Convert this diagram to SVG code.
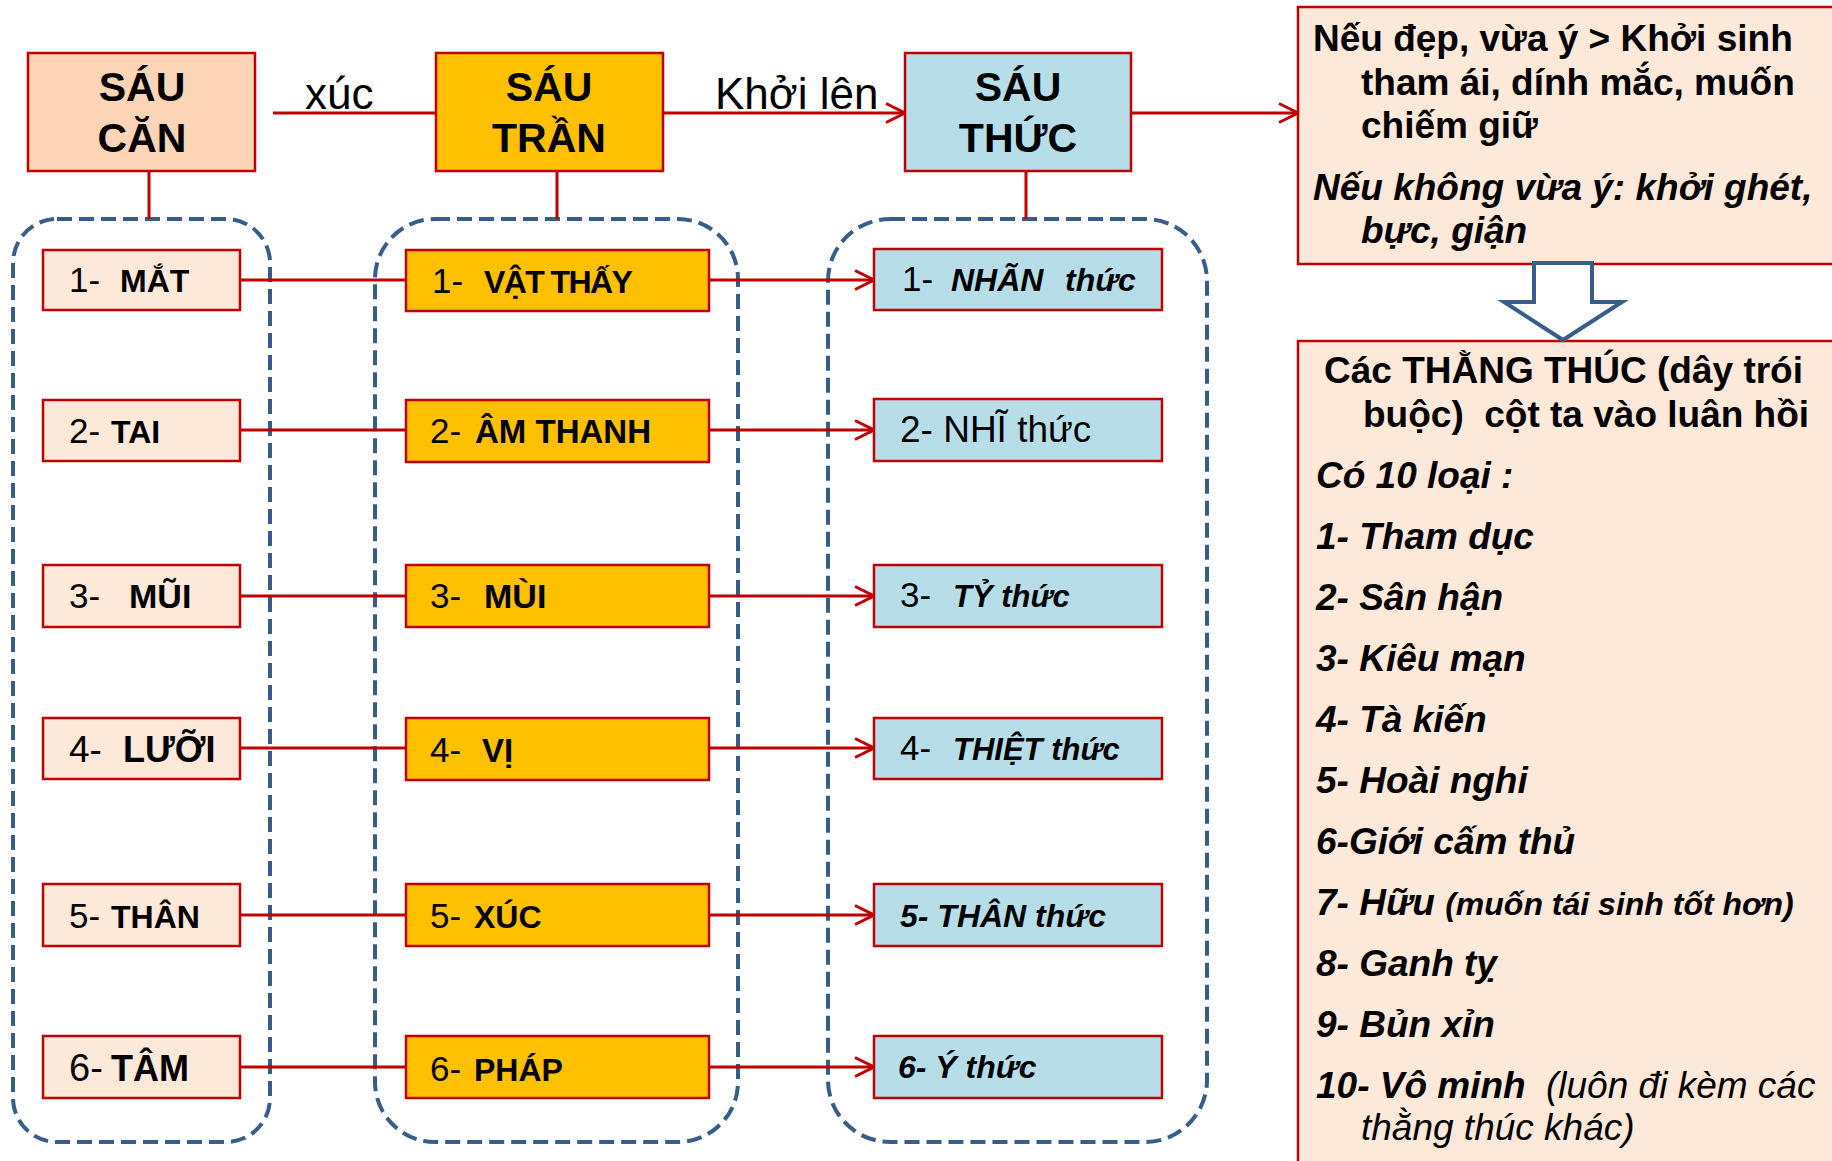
<svg xmlns="http://www.w3.org/2000/svg" width="1832" height="1161" viewBox="0 0 1832 1161">
<defs>
<marker id="arr" markerUnits="userSpaceOnUse" markerWidth="24" markerHeight="24" viewBox="0 0 24 24" refX="21" refY="12" orient="auto">
<path d="M2,2.5 L21,12 L2,21.5" fill="none" stroke="#C00000" stroke-width="3"/>
</marker>
<style>
text{font-family:"Liberation Sans",Arial,sans-serif;fill:#000}
.box{stroke:#C00000;stroke-width:2.5}
.can{fill:#FBD5B5}.tran{fill:#FFC000}.thuc{fill:#B7DEE8}.pink{fill:#FDE9D9}
.grp{fill:none;stroke:#385D8A;stroke-width:4;stroke-dasharray:15 7}
.ln{stroke:#C00000;stroke-width:3;fill:none}
.t{font-size:41px;font-weight:bold;text-anchor:middle}
.b{font-weight:bold}.bi{font-weight:bold;font-style:italic}.i{font-style:italic;font-weight:normal}
.d{font-size:35px}
</style>
</defs>
<rect width="1832" height="1161" fill="#fff"/>

<g id="groups">
<rect class="grp" x="13" y="219" width="257" height="923" rx="44"/>
<rect class="grp" x="375" y="219" width="363" height="923" rx="60"/>
<rect class="grp" x="828" y="219" width="379" height="923" rx="62"/>
</g>

<g id="connectors">
<path class="ln" d="M273,113 H436"/>
<path class="ln" d="M663,113 H905" marker-end="url(#arr)"/>
<path class="ln" d="M1131,113 H1298" marker-end="url(#arr)"/>
<path class="ln" d="M149,171 V219 M557,171 V219 M1026,171 V219"/>
<path class="ln" d="M240,280 H406 M240,430 H406 M240,596 H406 M240,748 H406 M240,915 H406 M240,1067 H406"/>
<path class="ln" d="M709,280 H874" marker-end="url(#arr)"/>
<path class="ln" d="M709,430 H874" marker-end="url(#arr)"/>
<path class="ln" d="M709,596 H874" marker-end="url(#arr)"/>
<path class="ln" d="M709,748 H874" marker-end="url(#arr)"/>
<path class="ln" d="M709,915 H874" marker-end="url(#arr)"/>
<path class="ln" d="M709,1067 H874" marker-end="url(#arr)"/>
<text x="305" y="109" font-size="44">xúc</text>
<text x="715" y="109" font-size="44">Khởi lên</text>
</g>

<g id="sau-can">
<rect class="box can" x="28" y="53" width="227" height="118"/>
<text class="t" x="142" y="101">SÁU</text>
<text class="t" x="142" y="152">CĂN</text>
</g>
<g id="sau-tran">
<rect class="box tran" x="436" y="53" width="227" height="118"/>
<text class="t" x="549" y="101">SÁU</text>
<text class="t" x="549" y="152">TRẦN</text>
</g>
<g id="sau-thuc">
<rect class="box thuc" x="905" y="53" width="226" height="118"/>
<text class="t" x="1018" y="101">SÁU</text>
<text class="t" x="1018" y="152">THỨC</text>
</g>

<g id="can-1"><rect class="box pink" x="43" y="250" width="197" height="60"/><text y="292" font-size="32"><tspan x="69" class="d">1-</tspan><tspan x="120" class="b">MẮT</tspan></text></g>
<g id="can-2"><rect class="box pink" x="43" y="400" width="197" height="61"/><text y="443" font-size="32"><tspan x="69" class="d">2-</tspan><tspan x="111" class="b">TAI</tspan></text></g>
<g id="can-3"><rect class="box pink" x="43" y="565" width="197" height="62"/><text y="608" font-size="34"><tspan x="69" class="d">3-</tspan><tspan x="129" class="b">MŨI</tspan></text></g>
<g id="can-4"><rect class="box pink" x="43" y="718" width="197" height="61"/><text y="762" font-size="36"><tspan x="69" font-size="37">4-</tspan><tspan x="123" class="b">LƯỠI</tspan></text></g>
<g id="can-5"><rect class="box pink" x="43" y="884" width="197" height="62"/><text y="928" font-size="32"><tspan x="69" class="d">5-</tspan><tspan x="111" class="b">THÂN</tspan></text></g>
<g id="can-6"><rect class="box pink" x="43" y="1036" width="197" height="62"/><text y="1081" font-size="36"><tspan x="69" font-size="38">6-</tspan><tspan x="111" class="b">TÂM</tspan></text></g>

<g id="tran-1"><rect class="box tran" x="406" y="250" width="303" height="61"/><text y="293" font-size="32"><tspan x="432" class="d">1-</tspan><tspan x="484" class="b" letter-spacing="-1.6">VẬT THẤY</tspan></text></g>
<g id="tran-2"><rect class="box tran" x="406" y="400" width="303" height="62"/><text y="443" font-size="33"><tspan x="430" class="d">2-</tspan><tspan x="475" class="b">ÂM THANH</tspan></text></g>
<g id="tran-3"><rect class="box tran" x="406" y="565" width="303" height="62"/><text y="608" font-size="34"><tspan x="430" class="d">3-</tspan><tspan x="484" class="b">MÙI</tspan></text></g>
<g id="tran-4"><rect class="box tran" x="406" y="718" width="303" height="62"/><text y="762" font-size="33"><tspan x="430" class="d">4-</tspan><tspan x="482" class="b">VỊ</tspan></text></g>
<g id="tran-5"><rect class="box tran" x="406" y="884" width="303" height="62"/><text y="928" font-size="32"><tspan x="430" class="d">5-</tspan><tspan x="474" class="b">XÚC</tspan></text></g>
<g id="tran-6"><rect class="box tran" x="406" y="1036" width="303" height="62"/><text y="1081" font-size="32"><tspan x="430" class="d">6-</tspan><tspan x="474" class="b">PHÁP</tspan></text></g>

<g id="thuc-1"><rect class="box thuc" x="874" y="249" width="288" height="61"/><text y="291" font-size="32"><tspan x="902" class="d">1-</tspan><tspan x="951" class="bi">NHÃN</tspan><tspan x="1065" class="bi">thức</tspan></text></g>
<g id="thuc-2"><rect class="box thuc" x="874" y="399" width="288" height="62"/><text x="900" y="442" font-size="37">2- NHĨ thức</text></g>
<g id="thuc-3"><rect class="box thuc" x="874" y="565" width="288" height="62"/><text y="607" font-size="31"><tspan x="900" class="d">3-</tspan><tspan x="953" class="bi">TỶ thức</tspan></text></g>
<g id="thuc-4"><rect class="box thuc" x="874" y="718" width="288" height="61"/><text y="760" font-size="31"><tspan x="900" class="d">4-</tspan><tspan x="953" class="bi">THIỆT thức</tspan></text></g>
<g id="thuc-5"><rect class="box thuc" x="874" y="884" width="288" height="62"/><text class="bi" x="900" y="927" font-size="32">5- THÂN thức</text></g>
<g id="thuc-6"><rect class="box thuc" x="874" y="1036" width="288" height="62"/><text class="bi" x="898" y="1078" font-size="32">6- Ý thức</text></g>

<g id="reaction">
<rect class="box pink" x="1298" y="7" width="600" height="257"/>
<text class="b" font-size="37"><tspan x="1313" y="51">Nếu đẹp, vừa ý &gt; Khởi sinh</tspan><tspan x="1361" y="95">tham ái, dính mắc, muốn</tspan><tspan x="1361" y="138">chiếm giữ</tspan></text>
<text class="bi" font-size="37"><tspan x="1313" y="200">Nếu không vừa ý: khởi ghét,</tspan><tspan x="1361" y="243">bực, giận</tspan></text>
</g>

<g id="fetters">
<rect class="box pink" x="1298" y="341" width="600" height="900"/>
<text class="b" font-size="37" xml:space="preserve"><tspan x="1324" y="383">Các THẰNG THÚC (dây trói</tspan><tspan x="1363" y="427">buộc)  cột ta vào luân hồi</tspan></text>
<g font-size="37">
<text class="bi" x="1316" y="488">Có 10 loại :</text>
<text class="bi" x="1316" y="549">1- Tham dục</text>
<text class="bi" x="1316" y="610">2- Sân hận</text>
<text class="bi" x="1316" y="671">3- Kiêu mạn</text>
<text class="bi" x="1316" y="732">4- Tà kiến</text>
<text class="bi" x="1316" y="793">5- Hoài nghi</text>
<text class="bi" x="1316" y="854">6-Giới cấm thủ</text>
<text class="bi" x="1316" y="915">7- Hữu <tspan font-size="32">(muốn tái sinh tốt hơn)</tspan></text>
<text class="bi" x="1316" y="976">8- Ganh tỵ</text>
<text class="bi" x="1316" y="1037">9- Bủn xỉn</text>
<text class="bi" x="1316" y="1098">10- Vô minh<tspan x="1546" class="i">(luôn đi kèm các</tspan></text>
<text class="i" x="1361" y="1140">thằng thúc khác)</text>
</g>
</g>

<g id="down-arrow">
<path d="M1534,263 L1592,263 L1592,302 L1622,302 L1563,340 L1504,302 L1534,302 Z" fill="#fff" stroke="#385D8A" stroke-width="4" stroke-linejoin="miter"/>
</g>
</svg>
